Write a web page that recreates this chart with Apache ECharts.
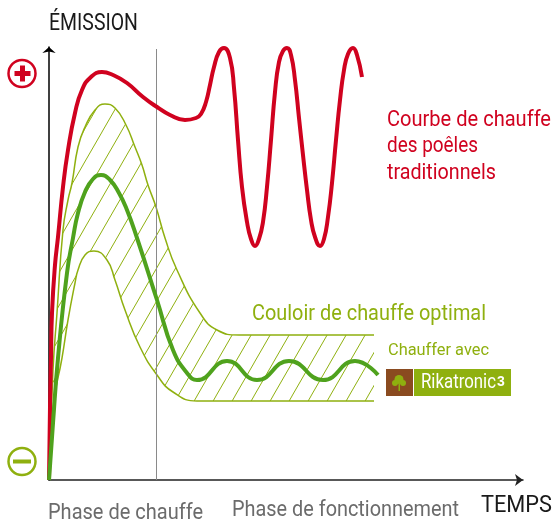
<!DOCTYPE html>
<html>
<head>
<meta charset="UTF-8">
<title>Courbe de chauffe</title>
<style>
  html, body { margin: 0; padding: 0; background: #fff; }
  #main { width: 553px; height: 521px; }
</style>
<script src="https://cdn.jsdelivr.net/npm/echarts@6/dist/echarts.min.js"></script>
</head>
<body>
<div id="main"></div>
<script type="text/javascript">
// values: [temps, emission]
var redCurve = [[0,0],[1,73],[2,122],[3,167],[6,215],[9,243],[14,293],[19,330],[26,367],[33,390],[42,403],[53,408],[64,405],[78,397],[94,383],[108,373],[121,365],[136,360],[147,362],[152,366],[157,378],[161,395],[165,413],[170,428],[175,432],[181,422],[185,392],[189,340],[193,293],[198,258],[202,241],[206,234],[210,241],[214,258],[218,293],[222,340],[226,388],[230,418],[234,429],[238,432],[242,425],[246,400],[250,362],[254,325],[258,290],[262,260],[266,243],[271,234],[275,241],[279,263],[283,297],[287,340],[291,380],[295,410],[299,426],[304,432],[308,425],[313,403]];
var corridorTop = [[0,0],[4,110],[8,167],[14,250],[19,280],[23,297],[29,333],[36,353],[46,370],[56,376],[66,372],[77,355],[86,333],[93,315],[99,295],[107,273],[116,242],[128,210],[151,167],[168,150],[190,145],[325,145]];
var corridorBottom = [[0,0],[4,73],[13,122],[19,160],[26,197],[29,210],[36,225],[45,229],[58,220],[66,200],[76,170],[91,133],[108,105],[124,88],[148,79],[325,79]];
var rikatronicCurve = [[0,0],[4,57],[9,122],[18,207],[24,242],[29,267],[36,288],[44,301],[52,305],[61,300],[70,287],[78,270],[88,242],[108,180],[124,130],[138,107],[148,100],[178,119],[208,100],[240,119],[274,100],[306,119],[329,105]];
var phaseLine = [[107.5,0],[107.5,431]];

var yTitle = 'ÉMISSION';
var xTitle = 'TEMPS';
var phaseLabels = ['Phase de chauffe', 'Phase de fonctionnement'];
var redLabels = ['Courbe de chauffe', 'des poêles', 'traditionnels'];
var corridorLabel = 'Couloir de chauffe optimal';
var withLabel = 'Chauffer avec';
var brandLabel = 'Rikatronic';

var RED = '#d0021f';
var LIME = '#8fb00f';
var GREEN = '#4fa21d';
var FONT = 'Roboto, "Liberation Sans", sans-serif';

// tuile de hachures
var tile = document.createElement('canvas');
tile.width = 19;
tile.height = 33;
var ctx = tile.getContext('2d');
ctx.strokeStyle = LIME;
ctx.lineWidth = 1;
ctx.beginPath();
[-19, 0, 19].forEach(function (d) {
    ctx.moveTo(7 + d - 1, 34.7);
    ctx.lineTo(7 + d + 20, -1.7);
});
ctx.stroke();

function bandLine(name, data, fill) {
    return {
        name: name, type: 'line', data: data, smooth: 0.5,
        showSymbol: false, clip: false, z: 1, silent: true,
        lineStyle: { color: LIME, width: 1.5 },
        areaStyle: { color: fill, opacity: 1 }
    };
}

// texte resserre a la largeur
var measure = document.createElement('canvas').getContext('2d');
function text(x, y, str, size, color, width) {
    var font = size + 'px ' + FONT;
    measure.font = font;
    var sx = width ? width / measure.measureText(str).width : 1;
    return {
        type: 'text', x: x, y: y, scaleX: sx, scaleY: 1, z: 20,
        style: { x: 0, y: 0, text: str, fill: color, font: font, verticalAlign: 'middle' }
    };
}

var myChart = echarts.init(document.getElementById('main'));
var option = {
    animation: false,
    backgroundColor: '#fff',
    grid: { left: 49, top: 47, width: 474, height: 433 },
    xAxis: {
        type: 'value', min: 0, max: 474, z: 2,
        axisLine: { onZero: false, symbol: ['none', 'arrow'], symbolSize: [9, 8], lineStyle: { color: '#222', width: 1.5 } },
        axisTick: { show: false }, axisLabel: { show: false }, splitLine: { show: false }
    },
    yAxis: {
        type: 'value', min: 0, max: 433, z: 2,
        axisLine: { onZero: false, symbol: ['none', 'arrow'], symbolSize: [10, 6], lineStyle: { color: '#000', width: 1.5 } },
        axisTick: { show: false }, axisLabel: { show: false }, splitLine: { show: false }
    },
    series: [
        bandLine('Couloir haut', corridorTop, { image: tile, repeat: 'repeat' }),
        bandLine('Couloir bas', corridorBottom, '#fff'),
        {
            name: 'Phase', type: 'line', data: phaseLine, showSymbol: false, clip: false, z: 2,
            lineStyle: { color: '#8a8a8a', width: 1 }
        },
        {
            name: 'Poêles traditionnels', type: 'line', data: redCurve, smooth: 0.5,
            showSymbol: false, clip: false, z: 3, lineStyle: { color: RED, width: 4 }
        },
        {
            name: 'Rikatronic', type: 'line', data: rikatronicCurve, smooth: 0.5,
            showSymbol: false, clip: false, z: 4, lineStyle: { color: GREEN, width: 4 }
        }
    ],
    graphic: [
        text(49, 24, yTitle, 23, '#1a1a1a', 89),
        text(481, 506, xTitle, 23, '#1a1a1a', 71),
        text(48, 513, phaseLabels[0], 22, '#6b6b6b', 155),
        text(232, 510, phaseLabels[1], 22, '#6b6b6b', 227),
        text(252, 314, corridorLabel, 22, LIME, 234),
        text(388, 351, withLabel, 17, LIME, 101),
        text(387, 120, redLabels[0], 22, RED, 164),
        text(387, 146, redLabels[1], 22, RED, 91),
        text(387, 173, redLabels[2], 22, RED, 109),
        // signes plus et moins
        { type: 'circle', shape: { cx: 22, cy: 73.5, r: 13.5 }, style: { fill: 'none', stroke: RED, lineWidth: 2.5 }, z: 20 },
        { type: 'rect', shape: { x: 14.5, y: 71, width: 16, height: 5 }, style: { fill: RED }, z: 20 },
        { type: 'rect', shape: { x: 20, y: 65.5, width: 5, height: 16 }, style: { fill: RED }, z: 20 },
        { type: 'circle', shape: { cx: 22, cy: 461.5, r: 13.5 }, style: { fill: 'none', stroke: LIME, lineWidth: 2.5 }, z: 20 },
        { type: 'rect', shape: { x: 13, y: 459.5, width: 18, height: 4 }, style: { fill: LIME }, z: 20 },
        // pastille Rikatronic
        { type: 'rect', shape: { x: 386, y: 369, width: 27, height: 27 }, style: { fill: '#8a4b20' }, z: 20 },
        { type: 'rect', shape: { x: 414, y: 369, width: 97, height: 27 }, style: { fill: LIME }, z: 20 },
        { type: 'circle', shape: { cx: 399, cy: 379.5, r: 4.5 }, style: { fill: LIME }, z: 21 },
        { type: 'circle', shape: { cx: 395, cy: 383, r: 3 }, style: { fill: LIME }, z: 21 },
        { type: 'circle', shape: { cx: 403, cy: 383, r: 3 }, style: { fill: LIME }, z: 21 },
        { type: 'rect', shape: { x: 398.5, y: 384, width: 1.5, height: 7 }, style: { fill: LIME }, z: 21 },
        text(421, 382.5, brandLabel, 21, '#fff', 75),
        { type: 'text', z: 21, style: { x: 497, y: 382, text: '3', fill: '#fff', verticalAlign: 'middle', font: 'bold 14px "Liberation Sans", sans-serif' } }
    ]
};
myChart.setOption(option);
</script>
</body>
</html>
